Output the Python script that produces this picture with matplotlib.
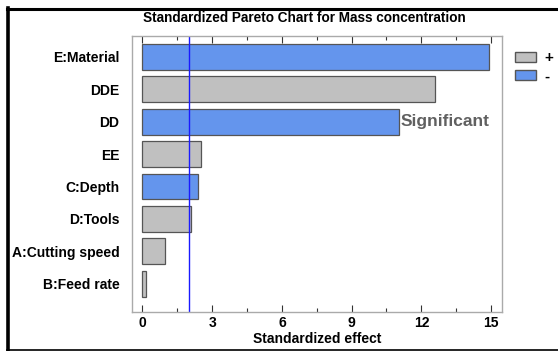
import matplotlib
matplotlib.use("Agg")
import matplotlib.pyplot as plt
from matplotlib.patches import Patch
from matplotlib.lines import Line2D

plt.rcParams['font.family'] = ['Liberation Sans', 'DejaVu Sans']

factors = ["E:Material", "DDE", "DD", "EE", "C:Depth", "D:Tools", "A:Cutting speed", "B:Feed rate"]
effects = [14.92, 12.6, 11.05, 2.5, 2.37, 2.07, 0.95, 0.17]
signs = ["-", "+", "-", "+", "-", "+", "+", "+"]
critical = 2.02
xticks = [0, 3, 6, 9, 12, 15]

pos_color = "#C0C0C0"
neg_color = "#6495ED"

fig = plt.figure(figsize=(5.58, 3.51), dpi=100)
ax = fig.add_axes([0.2366, 0.111, 0.6630, 0.7875])

colors = [neg_color if s == "-" else pos_color for s in signs]
ypos = list(range(len(factors)))
ax.barh(ypos, effects, height=0.8, color=colors, edgecolor="#555555", linewidth=0.9)
ax.axvline(critical, color="#1a1aff", linewidth=1.0)

ax.set_ylim(len(factors) - 1 + 0.87, -0.65)
ax.set_xlim(-0.45, 15.47)
ax.set_yticks(ypos)
ax.set_yticklabels(factors, fontsize=10, fontweight='bold')
ax.tick_params(axis='y', length=0, pad=9)
ax.set_xticks(xticks)
ax.set_xticklabels([str(t) for t in xticks], fontsize=10, fontweight='bold')
ax.set_xticks([t + 1.5 for t in xticks[:-1]], minor=True)
ax.tick_params(axis='x', which='major', direction='in', length=5, top=True, width=0.8, color="#333333", pad=3)
ax.tick_params(axis='x', which='minor', direction='in', length=3, top=True, width=0.8, color="#333333")
for s in ax.spines.values():
    s.set_color("#aaaaaa")
    s.set_linewidth(1.0)

ax.set_xlabel("Standardized effect", fontsize=10, fontweight='bold', labelpad=1)
ax.set_title("Standardized Pareto Chart for Mass concentration", fontsize=9.8, fontweight='bold', pad=10, x=0.465)

ax.text(effects[2] + 0.05, 2, "Significant", fontsize=12.5, fontweight='bold', color="#606060",
        va='center', ha='left')

handles = [Patch(facecolor=pos_color, edgecolor="#555555", label="+"),
           Patch(facecolor=neg_color, edgecolor="#555555", label="-")]
fig.legend(handles=handles, loc='upper left', bbox_to_anchor=(515/558, 1 - 51/351), frameon=False,
           prop={'weight': 'bold', 'size': 11}, handlelength=1.4, handleheight=0.62,
           handletextpad=0.5, labelspacing=0.3, borderaxespad=0, borderpad=0)

# figure frame lines (top, left, bottom)
fig.add_artist(Line2D([0.0125, 1.0], [1 - 8.5/351, 1 - 8.5/351], color='black', linewidth=2.2, transform=fig.transFigure))
fig.add_artist(Line2D([0.0145, 0.0145], [1 - 8/351, 1 - 349.5/351], color='black', linewidth=2.6, transform=fig.transFigure))
fig.add_artist(Line2D([0.0125, 1.0], [1 - 349.5/351, 1 - 349.5/351], color='black', linewidth=1.2, transform=fig.transFigure))

fig.savefig("out.png", dpi=100)
